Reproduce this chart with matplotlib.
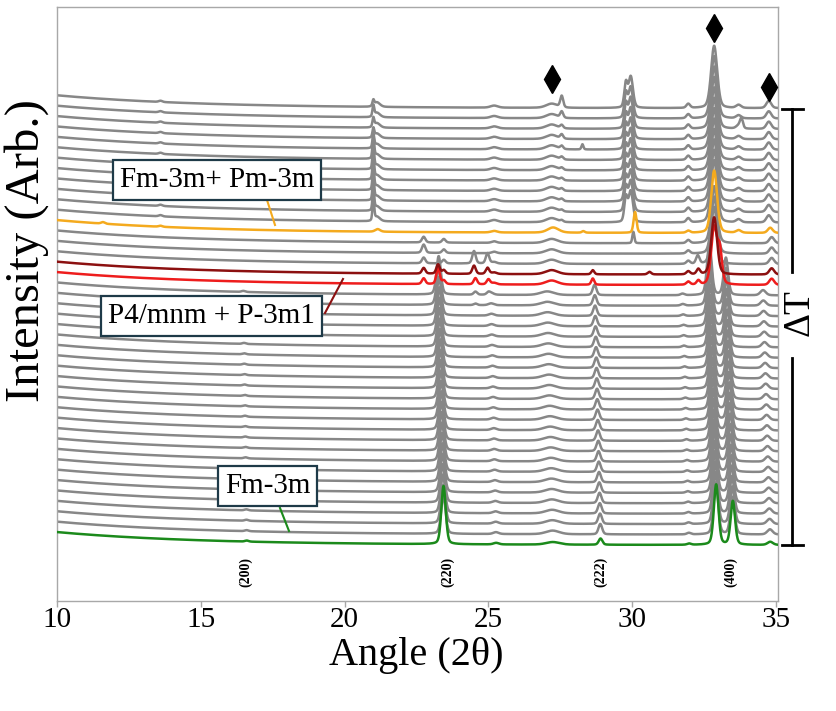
import numpy as np
import matplotlib
matplotlib.use("Agg")
import matplotlib.pyplot as plt
from matplotlib.lines import Line2D

plt.rcParams['font.family'] = ['Liberation Serif', 'DejaVu Serif']

# ---------------- data ----------------
x_ticks = [10, 15, 20, 25, 30, 35]
n_curves = 43                      # stacked patterns, index 0 = bottom (green)
idx_green, idx_red, idx_darkred, idx_orange = 0, 25, 26, 30
offset_step = 1.0                  # vertical spacing between patterns

# background decay (low-angle rise)
bg_amp = 1.25
bg_decay = 5.0

# Fm-3m (cubic) peaks, curves 0..24
cubic_pos = [16.6, 23.44, 25.27, 27.24, 28.9, 31.98, 32.92, 33.5, 34.8]
cubic_h_grey = [0.10, 3.7, 0.18, 0.35, 1.0, 0.15, 5.0, 3.6, 0.5]
cubic_h_green = [0.10, 5.6, 0.15, 0.25, 0.6, 0.12, 5.8, 4.2, 0.3]
cubic_w = [0.15, 0.18, 0.22, 0.55, 0.15, 0.16, 0.19, 0.18, 0.22]
cubic_shift = 0.0003               # fractional shift per pattern (expansion)

# P4/mnm + P-3m1 peaks common to curves 25..29
mid_pos = [22.75, 23.45, 25.2, 27.2, 31.95, 32.85, 34.85]
mid_h = [0.55, 0.35, 0.15, 0.4, 0.3, 5.5, 0.6]
mid_w = [0.14, 0.14, 0.2, 0.5, 0.15, 0.24, 0.2]

# Fm-3m + Pm-3m peaks common to curves 31..42
top_pos = [13.6, 21.12, 25.2, 27.2, 29.78, 29.95, 31.95, 32.85, 33.7, 34.75]
top_h = [0.12, 0.45, 0.2, 0.4, 2.3, 3.0, 0.4, 6.0, 0.3, 0.7]
top_w = [0.15, 0.25, 0.3, 0.45, 0.13, 0.18, 0.15, 0.25, 0.2, 0.2]
spike21_pos = 21.0
spike21_h = [2.0, 2.0, 2.0, 2.0, 2.0, 2.0, 2.0, 1.2, 0.8, 0.8, 1.0, 0.5]   # curves 31..42
peak2755_h = [0.15, 0.15, 0.2, 0.2, 0.2, 0.2, 0.25, 0.3, 0.4, 0.3, 0.6, 1.1]  # curves 31..42

# orange pattern (curve 30)
orange_pos = [11.6, 13.6, 21.15, 25.2, 27.25, 28.3, 30.1, 31.95, 32.85, 33.7, 34.8]
orange_h = [0.15, 0.1, 0.25, 0.15, 0.5, 0.15, 2.0, 0.2, 6.0, 0.25, 0.5]
orange_w = [0.15, 0.15, 0.2, 0.25, 0.45, 0.12, 0.12, 0.15, 0.24, 0.2, 0.2]

# extra single peaks: (curve index, position, height, width)
extra_idx = [23, 24, 24, 25, 25, 25, 25, 25, 25, 26, 26, 26, 26, 26, 26, 27, 27, 27, 28, 29, 38, 40]
extra_pos = [24.55, 24.55, 25.0, 23.25, 24.55, 25.0, 28.63, 32.3, 33.05, 23.25, 24.5, 24.97, 28.63, 30.6, 32.3,
             24.5, 24.97, 32.28, 22.75, 30.04, 28.27, 33.8]
extra_h = [0.15, 0.3, 0.2, 1.6, 0.6, 0.5, 0.6, 0.4, 3.0, 0.9, 0.8, 0.6, 0.4, 0.25, 0.5,
           1.2, 1.0, 0.8, 0.25, 1.1, 0.5, 0.9]
extra_w = [0.14, 0.14, 0.14, 0.14, 0.14, 0.14, 0.12, 0.14, 0.18, 0.14, 0.14, 0.14, 0.12, 0.14, 0.14,
           0.14, 0.14, 0.14, 0.14, 0.08, 0.08, 0.12]

# markers and labels
diamond_x = [27.2, 32.85, 34.75]
diamond_y = [44.8, 49.7, 44.0]
hkl_x = [16.56, 23.58, 28.9, 33.44]
hkl_text = ['(200)', '(220)', '(222)', '(400)']
hkl_y = -2.6

# ---------------- build figure ----------------
W, H = 837, 711
fig = plt.figure(figsize=(W / 100, H / 100), dpi=100)
ax = fig.add_axes([57 / W, 1 - 601 / H, (778 - 57) / W, (601 - 7) / H])
X_MIN, X_MAX = 10.0, 35.07
Y_MIN, Y_MAX = -5.38, 51.74
ax.set_xlim(X_MIN, X_MAX)
ax.set_ylim(Y_MIN, Y_MAX)

x = np.linspace(X_MIN, X_MAX, 3000)


def pv(c, h, w, eta=0.3):
    t = (x - c) / w
    return h * (eta / (1 + 4 * t * t) + (1 - eta) * np.exp(-4 * np.log(2) * t * t))


background = bg_amp * np.exp(-(x - X_MIN) / bg_decay)

colors = {idx_green: '#1B8A1B', idx_red: '#EE1D1D', idx_darkred: '#8C1010', idx_orange: '#F4AA1E'}
grey = '#878787'

for i in range(n_curves):
    y = background.copy()
    if i <= 24:
        hs = cubic_h_green if i == idx_green else cubic_h_grey
        for c, h, w in zip(cubic_pos, hs, cubic_w):
            y += pv(c * (1 - cubic_shift * i), h, w)
    elif i <= 29:
        for c, h, w in zip(mid_pos, mid_h, mid_w):
            y += pv(c, h, w)
    elif i == idx_orange:
        for c, h, w in zip(orange_pos, orange_h, orange_w):
            y += pv(c, h, w)
    else:
        k = i - 31
        for c, h, w in zip(top_pos, top_h, top_w):
            y += pv(c, h, w)
        y += pv(spike21_pos, spike21_h[k], 0.07, eta=0.2)
        y += pv(27.55, peak2755_h[k], 0.12)
    for j, c, h, w in zip(extra_idx, extra_pos, extra_h, extra_w):
        if j == i:
            y += pv(c, h, w)
    col = colors.get(i, grey)
    ax.plot(x, y + i * offset_step, color=col, lw=1.8,
            zorder=3 if i in colors else 2, solid_joinstyle='round')

# diamonds
ax.plot(diamond_x, diamond_y, linestyle='none', marker='d', markersize=14,
        color='black', zorder=5)

# hkl labels
for xx, t in zip(hkl_x, hkl_text):
    ax.text(xx, hkl_y, t, rotation=90, ha='center', va='center',
            fontsize=10, fontweight='bold')

# axes styling
for s in ax.spines.values():
    s.set_color('#A8A8A8')
    s.set_linewidth(1.0)
ax.set_yticks([])
ax.set_xticks(x_ticks)
ax.tick_params(axis='x', direction='out', length=4, width=1.0, color='#A8A8A8',
               labelsize=21, pad=0.5)


def fx(px):
    return px / W


def fy(py):
    return 1 - py / H


fig.text(fx(416), fy(655), 'Angle (2θ)', fontsize=29, ha='center', va='center')
fig.text(fx(27), fy(251), 'Intensity (Arb.)', fontsize=35, rotation=90,
         ha='center', va='center')

# annotation boxes with leader lines
box = dict(boxstyle='square,pad=0.24', fc='white', ec='#1E3A48', lw=1.6)
leaders = [((267, 200), (275, 225), '#F4AA1E'),
           ((325, 313), (343, 279), '#8C1010'),
           ((280, 508), (289, 531), '#1B8A1B')]
for (x0, y0), (x1, y1), c in leaders:
    fig.add_artist(Line2D([fx(x0), fx(x1)], [fy(y0), fy(y1)], color=c, lw=1.5, zorder=4))
fig.text(fx(217), fy(180), 'Fm-3m+ Pm-3m', fontsize=21, ha='center', va='center',
         bbox=box, zorder=6)
fig.text(fx(211.5), fy(316), 'P4/mnm + P-3m1', fontsize=21, ha='center', va='center',
         bbox=box, zorder=6)
fig.text(fx(267.5), fy(486), 'Fm-3m', fontsize=21, ha='center', va='center',
         bbox=box, zorder=6)

# Delta T bar on the right
bar_kw = dict(color='black', lw=2.0)
fig.add_artist(Line2D([fx(792), fx(792)], [fy(109), fy(272)], **bar_kw))
fig.add_artist(Line2D([fx(792), fx(792)], [fy(358), fy(545)], **bar_kw))
fig.add_artist(Line2D([fx(782), fx(803)], [fy(109), fy(109)], **bar_kw))
fig.add_artist(Line2D([fx(782), fx(803)], [fy(545), fy(545)], **bar_kw))
fig.text(fx(799), fy(313), 'ΔT', fontsize=27, rotation=90, ha='center', va='center')

fig.savefig('out.png', dpi=100, facecolor='white')
